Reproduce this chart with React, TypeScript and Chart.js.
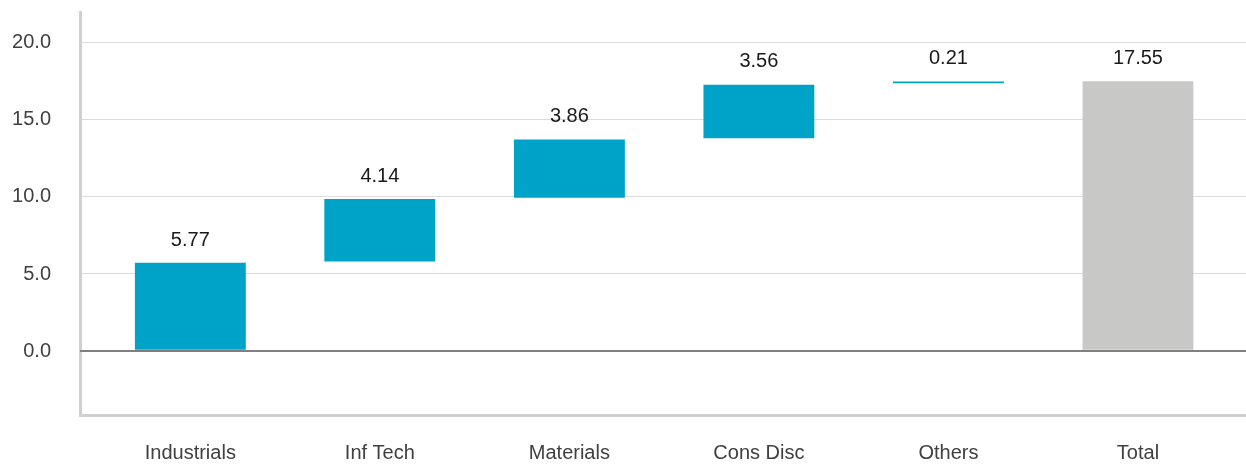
import React, { useEffect, useRef } from 'react';
import { Chart, registerables } from 'chart.js';

Chart.register(...registerables);

const categories = ['Industrials', 'Inf Tech', 'Materials', 'Cons Disc', 'Others', 'Total'];
const contributions = [5.77, 4.14, 3.86, 3.56, 0.21];
const total = 17.55;
const yTickValues = [0, 5, 10, 15, 20];

const FONT = 'Liberation Sans, Arial, Helvetica, sans-serif';
const BAR_COLOR = '#00A3C8';
const TOTAL_COLOR = '#C8C8C6';

export default function App() {
  const ref = useRef<HTMLCanvasElement>(null);

  useEffect(() => {
    if (!ref.current) return;
    const floating: [number, number][] = [];
    let run = 0;
    contributions.forEach((v) => {
      floating.push([run, run + v]);
      run += v;
    });
    floating.push([0, total]);
    const valueLabels = [...contributions, total].map((v) => v.toFixed(2));
    const colors = categories.map((_, i) => (i === categories.length - 1 ? TOTAL_COLOR : BAR_COLOR));
    const data = floating.map((r, i) => ({ x: i, y: r }));

    const overlay = {
      id: 'overlay',
      afterDatasetsDraw(chart: any) {
        const { ctx, chartArea } = chart;
        const yScale = chart.scales.y;
        const zy = yScale.getPixelForValue(0);
        ctx.save();
        ctx.strokeStyle = '#808080';
        ctx.lineWidth = 2;
        ctx.beginPath();
        ctx.moveTo(chartArea.left, zy);
        ctx.lineTo(chartArea.right, zy);
        ctx.stroke();

        const meta = chart.getDatasetMeta(0);
        ctx.font = `20px ${FONT}`;
        ctx.fillStyle = '#1a1a1a';
        ctx.textAlign = 'center';
        ctx.textBaseline = 'middle';
        meta.data.forEach((el: any, i: number) => {
          const top = Math.min(el.y, el.base);
          ctx.fillText(valueLabels[i], el.x, top - 22);
        });
        ctx.restore();
      },
    };

    const chart = new Chart(ref.current, {
      type: 'bar',
      data: {
        datasets: [
          {
            data: data as any,
            backgroundColor: colors,
            borderColor: '#ffffff',
            borderWidth: { top: 1, bottom: 1, left: 0, right: 0 } as any,
            borderSkipped: false,
            barThickness: 111,
          },
        ],
      },
      options: {
        responsive: false,
        animation: false,
        layout: { padding: { top: 12, left: 0, right: 0, bottom: 0 } },
        plugins: {
          legend: { display: false },
          tooltip: { enabled: false },
        },
        scales: {
          x: {
            type: 'linear',
            offset: false,
            min: -0.582,
            max: 5.57,
            afterBuildTicks: (s: any) => {
              s.ticks = categories.map((_, i) => ({ value: i }));
            },
            afterFit: (s: any) => {
              s.height = 50;
              s.paddingLeft = 0;
              s.paddingRight = 0;
            },
            grid: { display: false, drawTicks: false, offset: false },
            border: { display: true, color: '#D0D0D0', width: 3 },
            ticks: {
              autoSkip: false,
              maxRotation: 0,
              padding: 26,
              color: '#404040',
              font: { family: FONT, size: 20 },
              callback: (v: any) => categories[Number(v)] ?? '',
            },
          },
          y: {
            min: -4.15,
            max: 22,
            afterBuildTicks: (s: any) => {
              s.ticks = yTickValues.map((v) => ({ value: v }));
            },
            afterFit: (s: any) => {
              s.width = 80;
              s.paddingTop = 0;
              s.paddingBottom = 0;
            },
            grid: {
              color: (c: any) => (c.tick && c.tick.value === 0 ? 'rgba(0,0,0,0)' : '#DCDCDC'),
              lineWidth: 1,
              drawTicks: false,
            },
            border: { display: true, color: '#D0D0D0', width: 3 },
            ticks: {
              padding: 29,
              color: '#404040',
              font: { family: FONT, size: 20 },
              callback: (v: any) => Number(v).toFixed(1),
            },
          },
        },
      },
      plugins: [overlay],
    });

    return () => chart.destroy();
  }, []);

  return (
    <div style={{ position: 'absolute', left: 0, top: 0, width: 1246, height: 465 }}>
      <canvas ref={ref} width={1246} height={465} />
    </div>
  );
}
